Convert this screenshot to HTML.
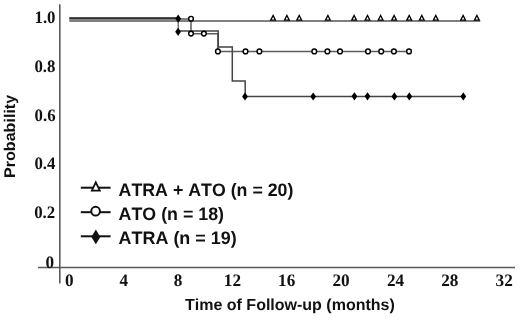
<!DOCTYPE html>
<html><head><meta charset="utf-8"><title>Kaplan-Meier</title>
<style>
html,body{margin:0;padding:0;background:#fff;width:520px;height:324px;overflow:hidden}
svg{display:block;filter:blur(0.35px)}
text{text-rendering:geometricPrecision;font-kerning:none}
.ser{font-family:"Liberation Serif",serif;font-weight:bold;font-size:17.5px;fill:#111}
.sans{font-family:"Liberation Sans",sans-serif;font-weight:bold;font-size:16px;fill:#111}
.leg{font-family:"Liberation Sans",sans-serif;font-weight:bold;font-size:18px;fill:#111}
</style></head>
<body>
<svg width="520" height="324" viewBox="0 0 520 324">
<rect width="520" height="324" fill="#fff"/>
<line x1="59.8" y1="4.2" x2="59.8" y2="283.6" stroke="#5a5a5a" stroke-width="1.6"/>
<line x1="38" y1="267.5" x2="515" y2="267.5" stroke="#5a5a5a" stroke-width="1.5"/>
<text x="34.5" y="23.0" class="ser" textLength="21.0" lengthAdjust="spacingAndGlyphs">1.0</text>
<text x="34.4" y="71.9" class="ser" textLength="21.0" lengthAdjust="spacingAndGlyphs">0.8</text>
<text x="34.6" y="120.5" class="ser" textLength="21.0" lengthAdjust="spacingAndGlyphs">0.6</text>
<text x="34.4" y="169.2" class="ser" textLength="21.0" lengthAdjust="spacingAndGlyphs">0.4</text>
<text x="34.2" y="218.2" class="ser" textLength="21.0" lengthAdjust="spacingAndGlyphs">0.2</text>
<text x="45.4" y="267.9" class="ser" textLength="8.6" lengthAdjust="spacingAndGlyphs">0</text>
<text x="65.0" y="286.0" class="ser" textLength="8.6" lengthAdjust="spacingAndGlyphs">0</text>
<text x="119.4" y="286.0" class="ser" textLength="8.6" lengthAdjust="spacingAndGlyphs">4</text>
<text x="173.7" y="286.0" class="ser" textLength="8.6" lengthAdjust="spacingAndGlyphs">8</text>
<text x="223.8" y="286.0" class="ser" textLength="17.2" lengthAdjust="spacingAndGlyphs">12</text>
<text x="278.1" y="286.0" class="ser" textLength="17.2" lengthAdjust="spacingAndGlyphs">16</text>
<text x="332.5" y="286.0" class="ser" textLength="17.2" lengthAdjust="spacingAndGlyphs">20</text>
<text x="386.9" y="286.0" class="ser" textLength="17.2" lengthAdjust="spacingAndGlyphs">24</text>
<text x="441.2" y="286.0" class="ser" textLength="17.2" lengthAdjust="spacingAndGlyphs">28</text>
<text x="495.6" y="286.0" class="ser" textLength="17.2" lengthAdjust="spacingAndGlyphs">32</text>
<text x="185.0" y="309.7" class="sans" textLength="209.8" lengthAdjust="spacingAndGlyphs">Time of Follow-up (months)</text>
<text transform="translate(15.2,178.0) rotate(-90)" class="sans" style="font-size:15.5px" textLength="83.2" lengthAdjust="spacingAndGlyphs">Probability</text>
<line x1="69.3" y1="20.9" x2="480.2" y2="20.9" stroke="#808080" stroke-width="2"/>
<path d="M69.3,18.9 H191.0 V33.8 H218.0 V51.4 H409.2" fill="none" stroke="#5c5c5c" stroke-width="1.5"/>
<path d="M178.2,31.1 H218.2 V46.9 H232.3 V81.0 H245.2 V96.4 H463.2" fill="none" stroke="#444" stroke-width="1.5"/>
<line x1="178.2" y1="18.1" x2="178.2" y2="31.1" stroke="#707070" stroke-width="1.4"/>
<line x1="69.3" y1="18.1" x2="178.2" y2="18.1" stroke="#151515" stroke-width="1.5"/>
<path d="M270.70,20.15 L273.10,15.45 L275.50,20.15 Z" fill="#fff" stroke="#000" stroke-width="1.3" stroke-linejoin="miter" stroke-miterlimit="10"/>
<path d="M284.50,20.15 L286.90,15.45 L289.30,20.15 Z" fill="#fff" stroke="#000" stroke-width="1.3" stroke-linejoin="miter" stroke-miterlimit="10"/>
<path d="M296.80,20.15 L299.20,15.45 L301.60,20.15 Z" fill="#fff" stroke="#000" stroke-width="1.3" stroke-linejoin="miter" stroke-miterlimit="10"/>
<path d="M325.50,20.15 L327.90,15.45 L330.30,20.15 Z" fill="#fff" stroke="#000" stroke-width="1.3" stroke-linejoin="miter" stroke-miterlimit="10"/>
<path d="M351.70,20.15 L354.10,15.45 L356.50,20.15 Z" fill="#fff" stroke="#000" stroke-width="1.3" stroke-linejoin="miter" stroke-miterlimit="10"/>
<path d="M365.10,20.15 L367.50,15.45 L369.90,20.15 Z" fill="#fff" stroke="#000" stroke-width="1.3" stroke-linejoin="miter" stroke-miterlimit="10"/>
<path d="M378.20,20.15 L380.60,15.45 L383.00,20.15 Z" fill="#fff" stroke="#000" stroke-width="1.3" stroke-linejoin="miter" stroke-miterlimit="10"/>
<path d="M391.70,20.15 L394.10,15.45 L396.50,20.15 Z" fill="#fff" stroke="#000" stroke-width="1.3" stroke-linejoin="miter" stroke-miterlimit="10"/>
<path d="M406.80,20.15 L409.20,15.45 L411.60,20.15 Z" fill="#fff" stroke="#000" stroke-width="1.3" stroke-linejoin="miter" stroke-miterlimit="10"/>
<path d="M419.40,20.15 L421.80,15.45 L424.20,20.15 Z" fill="#fff" stroke="#000" stroke-width="1.3" stroke-linejoin="miter" stroke-miterlimit="10"/>
<path d="M433.40,20.15 L435.80,15.45 L438.20,20.15 Z" fill="#fff" stroke="#000" stroke-width="1.3" stroke-linejoin="miter" stroke-miterlimit="10"/>
<path d="M460.70,20.15 L463.10,15.45 L465.50,20.15 Z" fill="#fff" stroke="#000" stroke-width="1.3" stroke-linejoin="miter" stroke-miterlimit="10"/>
<path d="M474.50,20.15 L476.90,15.45 L479.30,20.15 Z" fill="#fff" stroke="#000" stroke-width="1.3" stroke-linejoin="miter" stroke-miterlimit="10"/>
<circle cx="191.00" cy="18.70" r="2.35" fill="#fff" stroke="#000" stroke-width="1.45"/>
<circle cx="191.00" cy="33.60" r="2.35" fill="#fff" stroke="#000" stroke-width="1.45"/>
<circle cx="203.90" cy="33.60" r="2.35" fill="#fff" stroke="#000" stroke-width="1.45"/>
<circle cx="217.90" cy="51.40" r="2.35" fill="#fff" stroke="#000" stroke-width="1.45"/>
<circle cx="245.50" cy="51.40" r="2.35" fill="#fff" stroke="#000" stroke-width="1.45"/>
<circle cx="259.40" cy="51.40" r="2.35" fill="#fff" stroke="#000" stroke-width="1.45"/>
<circle cx="314.30" cy="51.40" r="2.35" fill="#fff" stroke="#000" stroke-width="1.45"/>
<circle cx="327.40" cy="51.40" r="2.35" fill="#fff" stroke="#000" stroke-width="1.45"/>
<circle cx="340.00" cy="51.40" r="2.35" fill="#fff" stroke="#000" stroke-width="1.45"/>
<circle cx="368.00" cy="51.40" r="2.35" fill="#fff" stroke="#000" stroke-width="1.45"/>
<circle cx="381.20" cy="51.40" r="2.35" fill="#fff" stroke="#000" stroke-width="1.45"/>
<circle cx="393.90" cy="51.40" r="2.35" fill="#fff" stroke="#000" stroke-width="1.45"/>
<circle cx="409.00" cy="51.40" r="2.35" fill="#fff" stroke="#000" stroke-width="1.45"/>
<path d="M178.20,14.60 L181.10,18.70 L178.20,22.80 L175.30,18.70 Z" fill="#000"/>
<path d="M178.10,27.70 L181.00,31.80 L178.10,35.90 L175.20,31.80 Z" fill="#000"/>
<path d="M245.00,92.40 L247.90,96.50 L245.00,100.60 L242.10,96.50 Z" fill="#000"/>
<path d="M313.20,92.40 L316.10,96.50 L313.20,100.60 L310.30,96.50 Z" fill="#000"/>
<path d="M354.40,92.20 L357.30,96.30 L354.40,100.40 L351.50,96.30 Z" fill="#000"/>
<path d="M367.50,92.20 L370.40,96.30 L367.50,100.40 L364.60,96.30 Z" fill="#000"/>
<path d="M394.40,92.30 L397.30,96.40 L394.40,100.50 L391.50,96.40 Z" fill="#000"/>
<path d="M409.30,92.30 L412.20,96.40 L409.30,100.50 L406.40,96.40 Z" fill="#000"/>
<path d="M463.30,92.30 L466.20,96.40 L463.30,100.50 L460.40,96.40 Z" fill="#000"/>
<line x1="80.8" y1="187.7" x2="110.6" y2="187.7" stroke="#111" stroke-width="2"/>
<path d="M91.8,190.6 L95.8,182.3 L99.8,190.6 Z" fill="#fff" stroke="#111" stroke-width="1.8"/>
<line x1="80.8" y1="212.2" x2="110.6" y2="212.2" stroke="#111" stroke-width="2"/>
<circle cx="95.6" cy="211.2" r="4.35" fill="#fff" stroke="#111" stroke-width="2"/>
<line x1="80.8" y1="236.3" x2="110.6" y2="236.3" stroke="#111" stroke-width="2"/>
<path d="M95.85,229.5 L100.3,236.9 L95.85,244.3 L91.4,236.9 Z" fill="#111"/>
<text x="118.6" y="195.8" class="leg" textLength="174.8" lengthAdjust="spacingAndGlyphs">ATRA + ATO (n = 20)</text>
<text x="118.6" y="219.9" class="leg" textLength="105.4" lengthAdjust="spacingAndGlyphs">ATO (n = 18)</text>
<text x="118.6" y="244.2" class="leg" textLength="118.1" lengthAdjust="spacingAndGlyphs">ATRA (n = 19)</text>
</svg>
</body></html>
